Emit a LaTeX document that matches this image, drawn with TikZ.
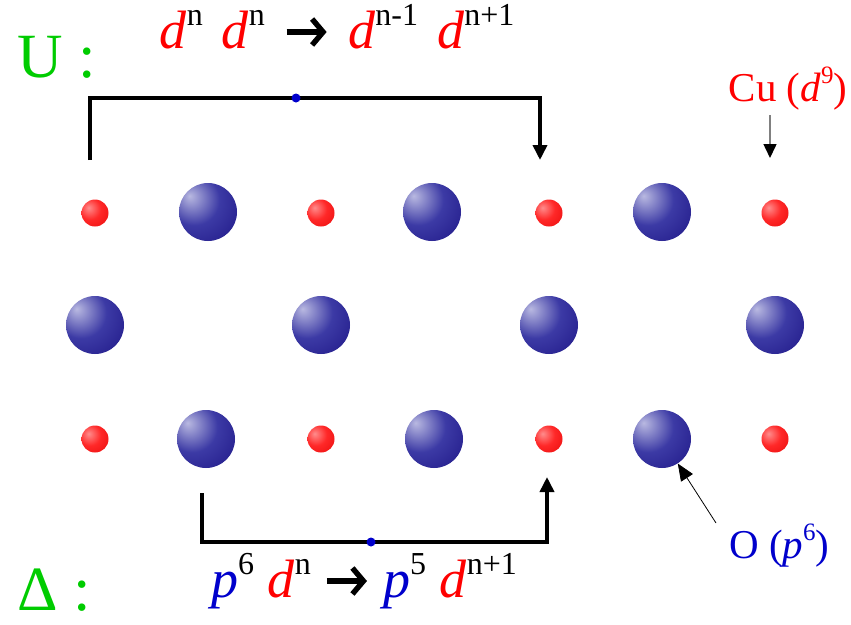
\documentclass[tikz,border=0pt]{standalone}
\usepackage{fontspec}
\setmainfont{Liberation Serif}
\usetikzlibrary{arrows.meta,shapes.geometric}
\definecolor{cured}{RGB}{255,0,0}
\definecolor{oblue}{RGB}{0,0,204}
\definecolor{ugreen}{RGB}{0,204,0}
\definecolor{bla}{RGB}{185,185,225}
\definecolor{blb}{RGB}{60,58,165}
\definecolor{blc}{RGB}{22,12,125}
\definecolor{rda}{RGB}{255,140,140}
\definecolor{rdb}{RGB}{255,40,40}
\definecolor{rdc}{RGB}{225,0,0}
\pgfdeclareradialshading{blueball}{\pgfpoint{-16bp}{14bp}}{color(0bp)=(bla); color(22bp)=(blb); color(55bp)=(blc); color(90bp)=(blc)}
\pgfdeclareradialshading{redball}{\pgfpoint{-12bp}{10bp}}{color(0bp)=(rda); color(20bp)=(rdb); color(55bp)=(rdc); color(90bp)=(rdc)}
\newcommand{\sups}[1]{\raisebox{0.42em}{\fontsize{32}{32}\selectfont #1}}
\newcommand{\smsups}[1]{\raisebox{0.42em}{\fontsize{25}{25}\selectfont #1}}
\newcommand{\chev}{\tikz[x=1pt,y=1pt,baseline=0pt]{\draw[line width=5.4pt,-{Straight Barb[length=11pt,width=26pt,line width=5.4pt]}] (0,16) -- (40,16);}}
\newcommand{\gap}{\hspace{19pt}}
\tikzset{
  cuatom/.style={circle,minimum size=27pt,inner sep=0pt,shading=redball},
  oatom/.style={circle,minimum size=58pt,inner sep=0pt,shading=blueball},
  bigtext/.style={font=\fontsize{54}{60}\selectfont,inner sep=0pt},
  headtext/.style={font=\fontsize{63}{70}\selectfont,inner sep=0pt,text=ugreen},
  labeltext/.style={font=\fontsize{41}{46}\selectfont,inner sep=0pt},
  bracket/.style={line width=3.6pt,-{Triangle[length=15pt,width=14pt]}},
  middot/.style={circle,fill=oblue,minimum size=9pt,inner sep=0pt},
}
\begin{document}
\begin{tikzpicture}[x=1pt,y=-1pt]
\useasboundingbox[fill=white] (0,0) rectangle (851,624);
% atoms
\foreach \i/\x in {1/95,2/321,3/549,4/775}{
  \node[cuatom] (ct\i) at (\x,213) {};
  \node[cuatom] (cb\i) at (\x,439) {};
  \node[oatom] (om\i) at (\x,325) {};
}
\node[oatom] (ot1) at (208,212) {};
\node[oatom] (ot2) at (432,212) {};
\node[oatom] (ot3) at (662,212) {};
\node[oatom] (ob1) at (206,439) {};
\node[oatom] (ob2) at (434,439) {};
\node[oatom] (ob3) at (662,439) {};
% labels
\node[headtext,anchor=base west] (U) at (17,77) {U :};
\node[headtext,anchor=base west] (D) at (17,610) {Δ :};
\node[bigtext,anchor=base] (ftop) at (337,48)
  {\textcolor{cured}{\textit{d}}\sups{n}\gap\textcolor{cured}{\textit{d}}\sups{n}\gap\chev\gap\textcolor{cured}{\textit{d}}\sups{n-1}\gap\textcolor{cured}{\textit{d}}\sups{n+1}};
\node[bigtext,anchor=base] (fbot) at (364,597)
  {\textcolor{oblue}{\textit{p}}\sups{6} \textcolor{cured}{\textit{d}}\sups{n} \chev{} \textcolor{oblue}{\textit{p}}\sups{5} \textcolor{cured}{\textit{d}}\sups{n+1}};
\node[labeltext,text=cured,anchor=base] (cu) at (788,101) {Cu (\textit{d}\smsups{9})};
\node[labeltext,text=oblue,anchor=base west] (ox) at (729,558) {O (\textit{p}\smsups{6})};
% top bracket
\coordinate (ts) at (90,160);
\coordinate (te) at (540,160);
\draw[bracket] (ts) -- (90,98) -- (540,98) -- (te);
\node[middot] (tdot) at (296,98) {};
% bottom bracket
\coordinate (bs) at (202,493);
\coordinate (be) at (547,477);
\draw[bracket] (bs) -- (202,542) -- (547,542) -- (be);
\node[middot] (bdot) at (371,542) {};
% Cu pointer
\coordinate (cuarr) at (770,158);
\coordinate (cutop) at (770,115);
\draw[gray,line width=1.5pt,-{Triangle[length=14pt,width=13pt,black]}] (cutop) -- (cuarr);
% O pointer
\coordinate (oarr) at (716,523);
\draw[black,line width=0.8pt,-{Triangle[length=17pt,width=14pt]}] (oarr) -- (ob3);
\end{tikzpicture}
\end{document}
